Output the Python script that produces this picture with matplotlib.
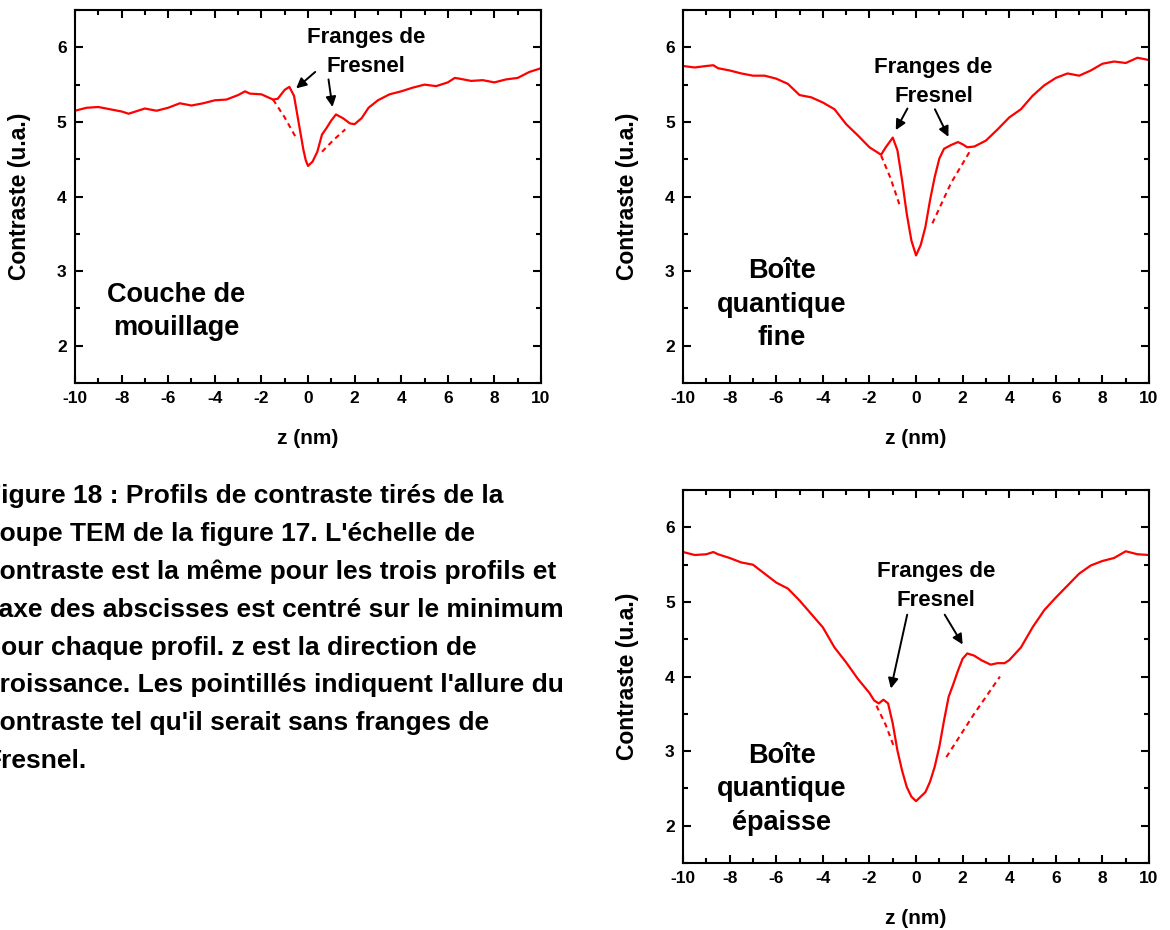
import matplotlib
matplotlib.use("Agg")
import matplotlib.pyplot as plt
from matplotlib.ticker import MultipleLocator

plt.rcParams['font.family'] = ['Liberation Sans', 'DejaVu Sans']
plt.rcParams['font.weight'] = 'bold'
plt.rcParams['axes.unicode_minus'] = False

# --- Couche de mouillage
z_wl = [-10, -9.5, -9, -8.5, -8, -7.7, -7, -6.5, -6, -5.5, -5, -4.5, -4, -3.5, -3, -2.7, -2.5, -2,
        -1.5, -1.3, -1.0, -0.8, -0.6, -0.4, -0.2, -0.1, 0, 0.2, 0.4, 0.6, 0.8, 1.0, 1.2, 1.5, 1.8,
        2.0, 2.3, 2.6, 3, 3.5, 4, 4.5, 5, 5.5, 6, 6.3, 6.5, 7, 7.5, 8, 8.5, 9, 9.5, 10]
c_wl = [5.15, 5.19, 5.20, 5.17, 5.14, 5.11, 5.18, 5.15, 5.19, 5.25, 5.22, 5.25, 5.29, 5.30, 5.36,
        5.41, 5.38, 5.37, 5.30, 5.31, 5.43, 5.47, 5.35, 4.99, 4.63, 4.49, 4.41, 4.47, 4.60, 4.83,
        4.92, 5.02, 5.10, 5.05, 4.98, 4.97, 5.05, 5.19, 5.29, 5.37, 5.41, 5.46, 5.50, 5.48, 5.53,
        5.59, 5.58, 5.55, 5.56, 5.53, 5.57, 5.59, 5.67, 5.72]
dash_wl = [([-1.5, -1.0, -0.5], [5.30, 5.06, 4.78]), ([0.6, 1.1, 1.6], [4.60, 4.76, 4.90])]

# --- Boîte quantique fine
z_fine = [-10, -9.5, -9, -8.7, -8.5, -8, -7.5, -7, -6.5, -6, -5.5, -5, -4.5, -4, -3.5, -3, -2.5, -2,
          -1.5, -1.3, -1.0, -0.8, -0.6, -0.4, -0.2, 0, 0.2, 0.4, 0.6, 0.8, 1.0, 1.2, 1.5, 1.8, 2.0,
          2.2, 2.5, 3, 3.5, 4, 4.5, 5, 5.5, 6, 6.5, 7, 7.5, 8, 8.5, 9, 9.5, 10]
c_fine = [5.75, 5.73, 5.75, 5.76, 5.72, 5.69, 5.65, 5.62, 5.62, 5.58, 5.51, 5.36, 5.33, 5.26, 5.17,
          4.97, 4.82, 4.66, 4.56, 4.66, 4.79, 4.62, 4.22, 3.77, 3.41, 3.21, 3.35, 3.59, 3.95, 4.26,
          4.51, 4.64, 4.69, 4.73, 4.70, 4.66, 4.67, 4.75, 4.90, 5.06, 5.17, 5.35, 5.49, 5.59, 5.65,
          5.62, 5.69, 5.78, 5.81, 5.79, 5.86, 5.83]
dash_fine = [([-1.5, -1.1, -0.7], [4.55, 4.25, 3.88]), ([0.7, 1.5, 2.3], [3.64, 4.18, 4.60])]

# --- Boîte quantique épaisse
z_thick = [-10, -9.5, -9, -8.7, -8.5, -8, -7.5, -7, -6.5, -6, -5.5, -5, -4.5, -4, -3.5, -3, -2.5, -2,
           -1.8, -1.6, -1.4, -1.2, -1.0, -0.8, -0.6, -0.4, -0.2, 0, 0.2, 0.4, 0.6, 0.8, 1.0, 1.2,
           1.4, 1.6, 1.8, 2.0, 2.2, 2.5, 2.8, 3.2, 3.5, 3.8, 4, 4.5, 5, 5.5, 6, 6.5, 7, 7.5, 8,
           8.5, 9, 9.5, 10]
c_thick = [5.67, 5.63, 5.64, 5.67, 5.64, 5.59, 5.53, 5.50, 5.38, 5.26, 5.18, 5.02, 4.84, 4.66, 4.39,
           4.19, 3.97, 3.78, 3.68, 3.64, 3.69, 3.64, 3.37, 3.01, 2.74, 2.52, 2.39, 2.33, 2.39, 2.45,
           2.59, 2.79, 3.06, 3.41, 3.73, 3.90, 4.08, 4.24, 4.31, 4.28, 4.22, 4.16, 4.18, 4.18, 4.22,
           4.39, 4.66, 4.89, 5.06, 5.22, 5.38, 5.49, 5.55, 5.59, 5.68, 5.64, 5.63]
dash_thick = [([-1.7, -1.3, -0.95], [3.61, 3.35, 3.06]), ([1.3, 2.45, 3.6], [2.92, 3.48, 4.0])]

panels = [
    dict(rect=[0.0641, 0.5882, 0.3983, 0.401], z=z_wl, c=c_wl, dashes=dash_wl,
         label="Couche de\nmouillage", label_xy=(-5.65, 2.46),
         fr_xy=(2.5, 5.94), arrows=[((0.31, 5.67), (-0.51, 5.45)), ((0.88, 5.57), (1.05, 5.20))]),
    dict(rect=[0.5838, 0.5882, 0.3983, 0.401], z=z_fine, c=c_fine, dashes=dash_fine,
         label="Boîte\nquantique\nfine", label_xy=(-5.77, 2.55),
         fr_xy=(0.75, 5.53), arrows=[((-0.37, 5.18), (-0.87, 4.89)), ((0.81, 5.17), (1.39, 4.80))]),
    dict(rect=[0.5838, 0.072, 0.3983, 0.401], z=z_thick, c=c_thick, dashes=dash_thick,
         label="Boîte\nquantique\népaisse", label_xy=(-5.77, 2.49),
         fr_xy=(0.85, 5.22), arrows=[((-0.38, 4.83), (-1.08, 3.84)), ((1.23, 4.83), (2.0, 4.43))]),
]

fig = plt.figure(figsize=(11.7, 9.3), dpi=100)

for p in panels:
    ax = fig.add_axes(p['rect'])
    ax.plot(p['z'], p['c'], color='red', lw=1.6)
    for dz, dc in p['dashes']:
        ax.plot(dz, dc, color='red', lw=1.5, ls=(0, (2.5, 2)))
    ax.set_xlim(-10, 10)
    ax.set_ylim(1.5, 6.5)
    ax.xaxis.set_major_locator(MultipleLocator(2))
    ax.xaxis.set_minor_locator(MultipleLocator(1))
    ax.yaxis.set_minor_locator(MultipleLocator(0.5))
    ax.set_yticks([2, 3, 4, 5, 6])
    ax.tick_params(which='both', direction='in', top=True, right=True, width=1.5,
                   labelsize=12.5, pad=6)
    ax.tick_params(which='major', length=6)
    ax.tick_params(which='minor', length=3.5)
    for lab in ax.get_xticklabels() + ax.get_yticklabels():
        lab.set_fontweight('bold')
    for s in ax.spines.values():
        s.set_linewidth(1.5)
    ax.set_xlabel('z (nm)', fontsize=15, fontweight='bold', labelpad=16)
    ax.set_ylabel('Contraste (u.a.)', fontsize=16.5, fontweight='bold', labelpad=19)
    ax.text(p['label_xy'][0], p['label_xy'][1], p['label'], ha='center', va='center',
            fontsize=19.5, fontweight='bold', linespacing=1.38)
    ax.text(p['fr_xy'][0], p['fr_xy'][1], "Franges de\nFresnel", ha='center', va='center',
            fontsize=16, fontweight='bold', linespacing=1.5)
    for start, end in p['arrows']:
        ax.annotate('', xy=end, xytext=start,
                    arrowprops=dict(arrowstyle='-|>', color='black', lw=1.4,
                                    mutation_scale=15, shrinkA=0, shrinkB=0))

caption = ("Figure 18 : Profils de contraste tirés de la\n"
           "coupe TEM de la figure 17. L'échelle de\n"
           "contraste est la même pour les trois profils et\n"
           "l'axe des abscisses est centré sur le minimum\n"
           "pour chaque profil. z est la direction de\n"
           "croissance. Les pointillés indiquent l'allure du\n"
           "contraste tel qu'il serait sans franges de\n"
           "Fresnel.")
fig.text(-15 / 1170, 1 - 484 / 930, caption, ha='left', va='top', fontsize=19,
         fontweight='bold', linespacing=1.72)

fig.savefig('out.png', dpi=100)
